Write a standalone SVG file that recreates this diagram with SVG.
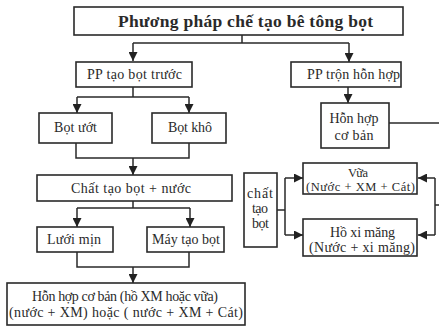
<svg xmlns="http://www.w3.org/2000/svg" width="439" height="327" viewBox="0 0 439 327">
<defs>
<marker id="ah" markerUnits="userSpaceOnUse" markerWidth="9" markerHeight="9" viewBox="0 0 10 10" refX="10" refY="5" orient="auto">
<path d="M0,0 L10,5 L0,10 z" fill="#222"/>
</marker>
<style>
.box{fill:#fff;stroke:#2a2a2a;stroke-width:1.6}
.ln{fill:none;stroke:#2a2a2a;stroke-width:1.5}
.ar{fill:none;stroke:#2a2a2a;stroke-width:1.5;marker-end:url(#ah)}
text{font-family:"Liberation Serif","DejaVu Serif",serif;fill:#2a2a2a;text-anchor:middle;font-size:14px}
.t{font-weight:bold;font-size:17.5px}
.s{font-size:12.5px}
</style>
</defs>
<rect width="439" height="327" fill="#fff"/>
<g id="connectors">
<path class="ln" d="M242,35 V43 M133,43 H349"/>
<path class="ar" d="M133,43 V61"/>
<path class="ar" d="M349,43 V62"/>
<path class="ln" d="M133,87 V97 M77,97 H189"/>
<path class="ar" d="M77,97 V113"/>
<path class="ar" d="M189,97 V113"/>
<path class="ln" d="M76,143 V158 H189 V143"/>
<path class="ar" d="M133,158 V175"/>
<path class="ln" d="M133,201 V208 M77,208 H190"/>
<path class="ar" d="M77,208 V227"/>
<path class="ar" d="M190,208 V227"/>
<path class="ln" d="M77,252 V267 H189 V252"/>
<path class="ar" d="M133,267 V283"/>
<path class="ar" d="M348,87 V103"/>
<path class="ln" d="M389,123 H439"/>
<path class="ln" d="M435,178 V235 M435,205 H439"/>
<path class="ar" d="M435,178 H418"/>
<path class="ar" d="M435,235 H418"/>
<path class="ln" d="M277,210 H285 M285,178 V235"/>
<path class="ar" d="M285,178 H303"/>
<path class="ar" d="M285,235 H303"/>
</g>
<g id="title"><rect class="box" x="74" y="7" width="329" height="28"/><text class="t" x="245.5" y="27" textLength="255">Phương pháp chế tạo bê tông bọt</text></g>
<g id="pp-tao-bot-truoc"><rect class="box" x="76" y="62" width="116" height="25"/><text x="134.5" y="79" textLength="95">PP tạo bọt trước</text></g>
<g id="pp-tron-hon-hop"><rect class="box" x="291" y="62" width="110" height="25"/><text x="353.5" y="79" textLength="93">PP trộn hỗn hợp</text></g>
<g id="bot-uot"><rect class="box" x="39" y="113" width="73" height="30"/><text x="75.5" y="132" textLength="43">Bọt ướt</text></g>
<g id="bot-kho"><rect class="box" x="152" y="113" width="74" height="30"/><text x="190" y="132" textLength="44">Bọt khô</text></g>
<g id="chat-tao-bot-nuoc"><rect class="box" x="37" y="175" width="195" height="26"/><text x="131" y="193" textLength="120">Chất tạo bọt + nước</text></g>
<g id="luoi-min"><rect class="box" x="37" y="227" width="76" height="25"/><text x="74" y="244" textLength="54">Lưới mịn</text></g>
<g id="may-tao-bot"><rect class="box" x="147" y="227" width="77" height="25"/><text x="186" y="244" textLength="68">Máy tạo bọt</text></g>
<g id="hon-hop-co-ban-duoi"><rect class="box" x="7" y="283" width="238" height="42"/><text x="125" y="301" textLength="186">Hỗn hợp cơ bản (hồ XM hoặc vữa)</text><text x="126" y="317" textLength="234">(nước + XM) hoặc ( nước + XM + Cát)</text></g>
<g id="hon-hop-co-ban"><rect class="box" x="321" y="103" width="68" height="45"/><text x="354" y="123" textLength="49">Hỗn hợp</text><text x="354" y="140" textLength="39">cơ bản</text></g>
<g id="vua"><rect class="box" x="303" y="163" width="114" height="31"/><text class="s" x="358" y="177" textLength="20">Vữa</text><text class="s" x="360.5" y="191" textLength="109">(Nước + XM + Cát)</text></g>
<g id="ho-xi-mang"><rect class="box" x="303" y="219" width="114" height="37"/><text x="362.5" y="237" textLength="65">Hồ xi măng</text><text x="362" y="252" textLength="106">(Nước + xi măng)</text></g>
<g id="chat-tao-bot"><rect class="box" x="244" y="173" width="33" height="74"/><text x="260" y="198" textLength="26">chất</text><text x="260" y="213" textLength="16">tạo</text><text x="260.5" y="228" textLength="17">bọt</text></g>
</svg>
